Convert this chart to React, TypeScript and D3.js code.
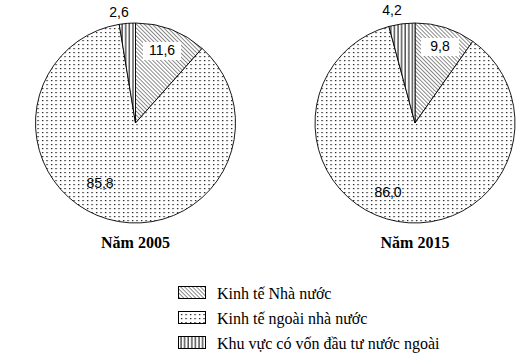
import React from "react";
import * as d3 from "d3";

const categories = ["Kinh tế Nhà nước", "Kinh tế ngoài nhà nước", "Khu vực có vốn đầu tư nước ngoài"];
const years = ["Năm 2005", "Năm 2015"];
const values2005 = [11.6, 85.8, 2.6];
const values2015 = [9.8, 86.0, 4.2];
const labels2005 = ["11,6", "85,8", "2,6"];
const labels2015 = ["9,8", "86,0", "4,2"];

const patterns = ["pDiag", "pDots", "pVert"];

const W = 528, H = 360;
const R = 100;

function Pie({ cx, cy, values, labels, title, labelPos }: any) {
  const pie = d3.pie<number>().sort(null).value((d) => d);
  const arcs = pie(values);
  const arc = d3.arc<d3.PieArcDatum<number>>().innerRadius(0).outerRadius(R);
  return (
    <g>
      <g transform={`translate(${cx},${cy})`}>
        {arcs.map((a, i) => (
          <path key={i} d={arc(a) || ""} fill={`url(#${patterns[i]})`} stroke="#000" strokeWidth={0.9} />
        ))}
      </g>
      {labels.map((l: string, i: number) => {
        const p = labelPos[i];
        return (
          <g key={i}>
            {p.bg && <rect x={p.x - 19} y={p.y - 13} width={38} height={18} fill="#fff" />}
            <text x={p.x} y={p.y} textAnchor="middle" fontFamily="Arial, 'Liberation Sans', sans-serif" fontSize={14} fill="#000">{l}</text>
          </g>
        );
      })}
      <text x={cx} y={cy + 125} textAnchor="middle" fontFamily="'Times New Roman', 'Liberation Serif', serif" fontWeight="bold" fontSize={16}>{title}</text>
    </g>
  );
}

export default function App() {
  return (
    <svg width={W} height={H} style={{ position: "absolute", left: 0, top: 0, background: "#fff" }}>
      <defs>
        <pattern id="pDiag" width={2.8} height={2.8} patternUnits="userSpaceOnUse" patternTransform="rotate(-45)">
          <rect width={2.8} height={2.8} fill="#fff" />
          <line x1={0} y1={0} x2={0} y2={2.8} stroke="#000" strokeWidth={0.9} />
        </pattern>
        <pattern id="pDots" width={4.5} height={4} patternUnits="userSpaceOnUse">
          <rect width={4.5} height={4} fill="#fff" />
          <rect x={1} y={1} width={1.2} height={1.2} fill="#000" />
        </pattern>
        <pattern id="pVert" width={3.6} height={3.6} patternUnits="userSpaceOnUse">
          <rect width={3.6} height={3.6} fill="#fff" />
          <line x1={1} y1={0} x2={1} y2={3.6} stroke="#000" strokeWidth={1} />
        </pattern>
      </defs>
      <rect width={W} height={H} fill="#fff" />
      <Pie cx={135.5} cy={123} values={values2005} labels={labels2005} title={years[0]}
        labelPos={[{ x: 162, y: 55, bg: true }, { x: 100, y: 188 }, { x: 119, y: 17 }]} />
      <Pie cx={415} cy={123} values={values2015} labels={labels2015} title={years[1]}
        labelPos={[{ x: 440, y: 51, bg: true }, { x: 388, y: 197 }, { x: 392, y: 15 }]} />
      {categories.map((c, i) => (
        <g key={c} transform={`translate(0,${i * 25})`}>
          <rect x={178.5} y={286.5} width={27} height={12} fill={`url(#${patterns[i]})`} stroke="#000" strokeWidth={1} />
          <text x={217} y={299} fontFamily="'Times New Roman', 'Liberation Serif', serif" fontSize={16} fill="#000">{c}</text>
        </g>
      ))}
    </svg>
  );
}
